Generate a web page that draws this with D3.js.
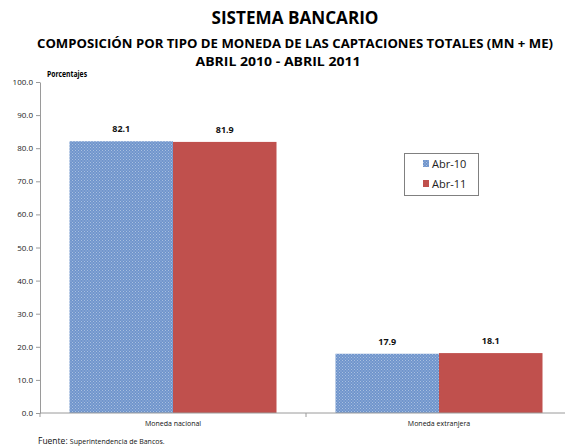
<!DOCTYPE html>
<html><head><meta charset="utf-8">
<script src="https://cdn.jsdelivr.net/npm/d3@7"></script>
<style>body{margin:0;background:#fff}svg{display:block}</style>
</head><body>
<script>
const categories = ["Moneda nacional", "Moneda extranjera"];
const seriesNames = ["Abr-10", "Abr-11"];
const abr10 = [82.1, 17.9];
const abr11 = [81.9, 18.1];
const yTicks = [0, 10, 20, 30, 40, 50, 60, 70, 80, 90, 100];

const W = 565, H = 447;
const font = "'Open Sans','Liberation Sans',Arial,sans-serif";
const svg = d3.select("body").append("svg").attr("width", W).attr("height", H);
const defs = svg.append("defs");
const pat = defs.append("pattern").attr("id", "dots").attr("width", 3).attr("height", 3).attr("patternUnits", "userSpaceOnUse");
pat.append("rect").attr("width", 3).attr("height", 3).attr("fill", "#6f95cc");
pat.append("rect").attr("x", 0).attr("y", 0).attr("width", 1).attr("height", 1).attr("fill", "#a9bfe0");
pat.append("rect").attr("x", 1.5).attr("y", 1.5).attr("width", 1).attr("height", 1).attr("fill", "#a9bfe0");

const colors = ["url(#dots)", "#c0504d"];
const x0 = d3.scaleBand().domain(categories).range([40, 572]).paddingInner(0).paddingOuter(0);
const x1 = d3.scaleBand().domain(seriesNames).range([0, x0.bandwidth()]).paddingInner(0).paddingOuter(0.285);
const y = d3.scaleLinear().domain([0, 100]).range([413, 82]);

// titles
svg.append("text").attr("x", 295).attr("y", 24).attr("text-anchor", "middle")
  .attr("textLength", 167).attr("lengthAdjust", "spacingAndGlyphs")
  .style("font", "bold 18px " + font).text("SISTEMA BANCARIO");
svg.append("text").attr("x", 295).attr("y", 48).attr("text-anchor", "middle")
  .attr("textLength", 516).attr("lengthAdjust", "spacingAndGlyphs")
  .style("font", "bold 13px " + font).text("COMPOSICIÓN POR TIPO DE MONEDA DE LAS CAPTACIONES TOTALES (MN + ME)");
svg.append("text").attr("x", 278).attr("y", 66).attr("text-anchor", "middle")
  .attr("textLength", 165).attr("lengthAdjust", "spacingAndGlyphs")
  .style("font", "bold 13px " + font).text("ABRIL 2010 - ABRIL 2011");
svg.append("text").attr("x", 47).attr("y", 77)
  .attr("textLength", 40).attr("lengthAdjust", "spacingAndGlyphs")
  .style("font", "bold 8px " + font).text("Porcentajes");

// y axis
const yAxis = d3.axisLeft(y).tickValues(yTicks).tickFormat(d3.format(".1f")).tickSize(4).tickSizeOuter(0);
const ya = svg.append("g").attr("transform", "translate(40,0)").call(yAxis);
ya.select(".domain").attr("stroke", "#9a9a9a");
ya.selectAll(".tick line").attr("stroke", "#9a9a9a");
ya.selectAll(".tick text").style("font", "8px " + font).attr("fill", "#222").attr("x", -7);

// bars
const g = svg.append("g");
categories.forEach((c, i) => {
  const vals = [abr10[i], abr11[i]];
  seriesNames.forEach((s, j) => {
    g.append("rect")
      .attr("x", x0(c) + x1(s)).attr("y", y(vals[j]))
      .attr("width", x1.bandwidth()).attr("height", y(0) - y(vals[j]))
      .attr("fill", colors[j]);
    g.append("text")
      .attr("x", x0(c) + x1(s) + x1.bandwidth() / 2).attr("y", y(vals[j]) - 9)
      .attr("text-anchor", "middle").style("font", "bold 9px " + font).attr("fill", "#111")
      .text(vals[j].toFixed(1));
  });
});

// x axis
const xa = svg.append("g").attr("transform", "translate(0,413)");
xa.append("line").attr("x1", 40).attr("x2", 572).attr("stroke", "#9a9a9a");
[0, 1, 2].forEach(k => {
  const xx = k < 2 ? x0(categories[k]) : x0.range()[1];
  xa.append("line").attr("x1", xx).attr("x2", xx).attr("y1", 0).attr("y2", 4).attr("stroke", "#9a9a9a");
});
categories.forEach(c => {
  xa.append("text").attr("x", x0(c) + x0.bandwidth() / 2).attr("y", 13)
    .attr("text-anchor", "middle").style("font", "7px " + font).attr("fill", "#111").text(c);
});

// legend
const lg = svg.append("g");
lg.append("rect").attr("x", 404.5).attr("y", 153.5).attr("width", 74).attr("height", 42)
  .attr("fill", "#fff").attr("stroke", "#808080").attr("stroke-width", 1);
seriesNames.forEach((s, j) => {
  const yy = 164 + j * 20;
  lg.append("rect").attr("x", 423).attr("y", yy - 4).attr("width", 6).attr("height", 7).attr("fill", colors[j]);
  lg.append("text").attr("x", 432).attr("y", yy + 4).style("font", "11px " + font).attr("fill", "#222").text(s);
});

// footer
const ft = svg.append("text").attr("x", 38).attr("y", 444).style("font", "8.5px " + font).attr("fill", "#111");
ft.append("tspan").text("Fuente: ");
ft.append("tspan").style("font-size", "7px").text("Superintendencia de Bancos.");
</script>
</body></html>
